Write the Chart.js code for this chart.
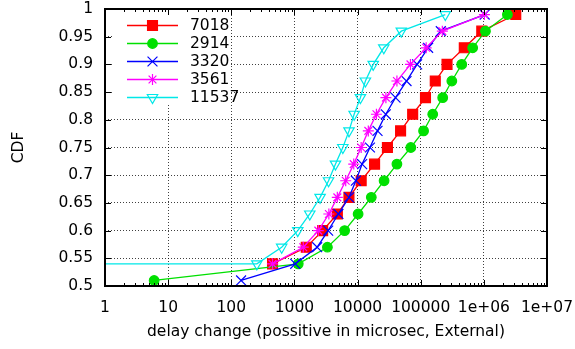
<!DOCTYPE html>
<html>
<head>
<meta charset="utf-8">
<title>CDF delay change</title>
<script src="https://cdn.jsdelivr.net/npm/chart.js@4.4.1/dist/chart.umd.min.js"></script>
<style>
  html, body { margin: 0; padding: 0; background: #fff; }
  #wrap { width: 575px; height: 349px; }
</style>
</head>
<body>
<div id="wrap"><canvas id="cdf-chart" width="575" height="349"></canvas></div>
<script>
  'use strict';

  var seriesNames = ['7018', '2914', '3320', '3561', '11537'];
  var seriesColors = ['#ff0000', '#00e000', '#0000ff', '#ff00ff', '#00e8e8'];

  // x = delay change (microsec), y = CDF
  var x7018 = [450, 1540, 2800, 4780, 7300, 11400, 18600, 29700, 48000, 74600, 119000, 170000, 261000, 490000, 927000, 3200000];
  var y7018 = [0.54, 0.57, 0.60, 0.63, 0.66, 0.69, 0.72, 0.75, 0.78, 0.81, 0.84, 0.87, 0.90, 0.93, 0.96, 0.99];

  var x2914 = [6, 1150, 3330, 6240, 10200, 16500, 26300, 42000, 69700, 111000, 155000, 223000, 311000, 446000, 665000, 1060000, 2360000];
  var y2914 = [0.51, 0.54, 0.57, 0.60, 0.63, 0.66, 0.69, 0.72, 0.75, 0.78, 0.81, 0.84, 0.87, 0.90, 0.93, 0.96, 0.99];

  var x3320 = [143, 1030, 2290, 3420, 4970, 7310, 9400, 11800, 15700, 20700, 28000, 39900, 59600, 87700, 131000, 208000, 1030000];
  var y3320 = [0.51, 0.54, 0.57, 0.60, 0.63, 0.66, 0.69, 0.72, 0.75, 0.78, 0.81, 0.84, 0.87, 0.90, 0.93, 0.96, 0.99];

  var x3561 = [450, 1380, 2390, 3510, 4780, 6490, 8700, 11400, 14800, 19900, 28100, 42000, 68800, 122000, 220000, 1020000];
  var y3561 = [0.54, 0.57, 0.60, 0.63, 0.66, 0.69, 0.72, 0.75, 0.78, 0.81, 0.84, 0.87, 0.90, 0.93, 0.96, 0.99];

  // first point lies left of the axis (below 1), so only its line shows
  var x11537 = [0.5, 254, 628, 1130, 1750, 2550, 3470, 4470, 5840, 7320, 8820, 11100, 13300, 17700, 26000, 49300, 245000];
  var y11537 = [0.54, 0.54, 0.57, 0.60, 0.63, 0.66, 0.69, 0.72, 0.75, 0.78, 0.81, 0.84, 0.87, 0.90, 0.93, 0.96, 0.99];

  var xMajorTicks = [1, 10, 100, 1000, 10000, 100000, 1000000, 10000000];
  var xTickLabels = ['1', '10', '100', '1000', '10000', '100000', '1e+06', '1e+07'];
  var yMajorTicks = [0.5, 0.55, 0.6, 0.65, 0.7, 0.75, 0.8, 0.85, 0.9, 0.95, 1];
  var yTickLabels = ['0.5', '0.55', '0.6', '0.65', '0.7', '0.75', '0.8', '0.85', '0.9', '0.95', '1'];

  var xTitle = 'delay change (possitive in microsec, External)';
  var yTitle = 'CDF';

  var FONT = '"DejaVu Sans", "Liberation Sans", Arial, sans-serif';
  var FONT_SIZE = 15.5;

  function zip(xs, ys) {
    return xs.map(function (x, i) { return { x: x, y: ys[i] }; });
  }

  function minorTicks(majors) {
    var out = [];
    for (var i = 0; i < majors.length - 1; i++) {
      for (var k = 2; k <= 9; k++) out.push(majors[i] * k);
    }
    return out;
  }

  var markers = [
    { style: 'rect', radius: 7, fill: true },
    { style: 'circle', radius: 4.8, fill: true },
    { style: 'crossRot', radius: 7, fill: false },
    { style: 'star', radius: 5.5, fill: false },
    { style: 'triangle', radius: 6, fill: false, rotation: 180 }
  ];

  var seriesX = [x7018, x2914, x3320, x3561, x11537];
  var seriesY = [y7018, y2914, y3320, y3561, y11537];

  function buildDatasets() {
    return seriesNames.map(function (name, i) {
      var m = markers[i];
      return {
        label: name,
        data: zip(seriesX[i], seriesY[i]),
        borderColor: seriesColors[i],
        backgroundColor: seriesColors[i],
        borderWidth: 1.3,
        pointStyle: m.style,
        pointRadius: m.radius,
        pointRotation: m.rotation || 0,
        pointBorderWidth: 1.2,
        pointBorderColor: seriesColors[i],
        pointBackgroundColor: m.fill ? seriesColors[i] : 'rgba(0,0,0,0)',
        tension: 0,
        fill: false,
        // gnuplot draws later series on top
        order: seriesNames.length - i
      };
    });
  }

  // white key box, frame, inward ticks and the key itself
  var gnuplotFrame = {
    id: 'gnuplotFrame',
    beforeDatasetsDraw: function (chart) {
      var ctx = chart.ctx;
      var a = chart.chartArea;
      ctx.save();
      ctx.fillStyle = '#fff';
      ctx.fillRect(a.left + 7, a.top + 1, 117, 94);
      ctx.restore();
    },
    afterDatasetsDraw: function (chart) {
      var ctx = chart.ctx;
      var a = chart.chartArea;
      var xs = chart.scales.x;
      var ys = chart.scales.y;
      ctx.save();
      ctx.strokeStyle = '#000';
      ctx.lineWidth = 1;
      ctx.setLineDash([]);

      ctx.beginPath();
      xMajorTicks.forEach(function (v) {
        var px = Math.round(xs.getPixelForValue(v)) + 0.5;
        ctx.moveTo(px, a.bottom); ctx.lineTo(px, a.bottom - 6);
        ctx.moveTo(px, a.top); ctx.lineTo(px, a.top + 6);
      });
      minorTicks(xMajorTicks).forEach(function (v) {
        var px = Math.round(xs.getPixelForValue(v)) + 0.5;
        ctx.moveTo(px, a.bottom); ctx.lineTo(px, a.bottom - 3);
        ctx.moveTo(px, a.top); ctx.lineTo(px, a.top + 3);
      });
      yMajorTicks.forEach(function (v) {
        var py = Math.round(ys.getPixelForValue(v)) + 0.5;
        ctx.moveTo(a.left, py); ctx.lineTo(a.left + 6, py);
        ctx.moveTo(a.right, py); ctx.lineTo(a.right - 6, py);
      });
      ctx.stroke();

      ctx.lineWidth = 2;
      ctx.strokeRect(Math.round(a.left), Math.round(a.top),
        Math.round(a.right - a.left), Math.round(a.bottom - a.top));

      // key
      var rowY0 = a.top + 15.5, rowStep = 18.1;
      chart.data.datasets.forEach(function (ds, i) {
        var y = Math.round(rowY0 + i * rowStep) + 0.5;
        ctx.strokeStyle = ds.borderColor;
        ctx.lineWidth = 1.3;
        ctx.beginPath();
        ctx.moveTo(127, y); ctx.lineTo(178, y);
        ctx.stroke();
        ctx.fillStyle = ds.pointBackgroundColor;
        ctx.strokeStyle = ds.pointBorderColor;
        ctx.lineWidth = 1.2;
        Chart.helpers.drawPoint(ctx, {
          pointStyle: ds.pointStyle,
          radius: ds.pointRadius,
          rotation: ds.pointRotation,
          borderWidth: 1.2
        }, 152.5, y);
        ctx.fillStyle = '#000';
        ctx.font = FONT_SIZE + 'px ' + FONT;
        ctx.textAlign = 'left';
        ctx.textBaseline = 'middle';
        ctx.fillText(ds.label, 190, y + 0.5);
      });
      ctx.restore();
    }
  };

  var gridColor = function (c) {
    var n = c.chart.scales[c.scale.id].ticks.length;
    return (c.index === 0 || c.index === n - 1) ? 'rgba(0,0,0,0)' : 'rgba(0,0,0,0.75)';
  };

  var canvas = document.getElementById('cdf-chart');
  new Chart(canvas.getContext('2d'), {
    type: 'line',
    data: { datasets: buildDatasets() },
    options: {
      responsive: false,
      animation: false,
      events: [],
      layout: { padding: { left: 0, right: 28, top: 9, bottom: 0 } },
      plugins: {
        legend: { display: false },
        tooltip: { enabled: false }
      },
      scales: {
        x: {
          type: 'logarithmic',
          min: 1,
          max: 10000000,
          afterBuildTicks: function (scale) {
            scale.ticks = xMajorTicks.map(function (v) { return { value: v }; });
          },
          afterFit: function (scale) {
            scale.height = 63;
            scale.paddingLeft = 0;
            scale.paddingRight = 0;
          },
          ticks: {
            autoSkip: false,
            maxRotation: 0,
            padding: 13,
            color: '#000',
            font: { family: FONT, size: FONT_SIZE },
            callback: function (value, index) { return xTickLabels[index]; }
          },
          grid: { drawTicks: false, color: gridColor, lineWidth: 1 },
          border: { display: false, dash: [1, 2] },
          title: {
            display: true,
            text: xTitle,
            color: '#000',
            font: { family: FONT, size: FONT_SIZE },
            padding: { top: 0, bottom: 8 }
          }
        },
        y: {
          type: 'linear',
          min: 0.5,
          max: 1,
          afterBuildTicks: function (scale) {
            scale.ticks = yMajorTicks.map(function (v) { return { value: v }; });
          },
          afterFit: function (scale) {
            scale.width = 105;
            scale.paddingTop = 0;
            scale.paddingBottom = 0;
          },
          ticks: {
            autoSkip: false,
            padding: 12,
            color: '#000',
            font: { family: FONT, size: FONT_SIZE },
            callback: function (value, index) { return yTickLabels[index]; }
          },
          grid: { drawTicks: false, color: gridColor, lineWidth: 1 },
          border: { display: false, dash: [1, 2] },
          title: {
            display: true,
            text: yTitle,
            color: '#000',
            font: { family: FONT, size: FONT_SIZE },
            padding: { top: 10, bottom: 0 }
          }
        }
      }
    },
    plugins: [gnuplotFrame]
  });
</script>
</body>
</html>
